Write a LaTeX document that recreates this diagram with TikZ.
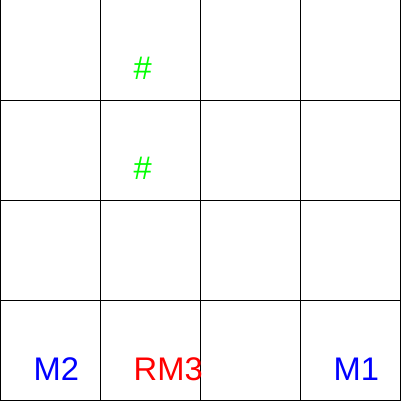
\documentclass[tikz,border=0pt]{standalone}
\usepackage{fontspec}
\setmainfont{Liberation Sans}
\definecolor{machblue}{RGB}{0,0,255}
\definecolor{robotred}{RGB}{255,0,0}
\definecolor{wallgreen}{RGB}{0,255,0}
\begin{document}
\begin{tikzpicture}[
	cell/.style={draw=black, line width=0.28pt},
	label/.style={inner sep=0pt, anchor=base west, font=\fontsize{9.3}{11}\selectfont},
	machine/.style={label, text=machblue},
	robot/.style={label, text=robotred},
	block/.style={label, text=wallgreen}]
	
	\useasboundingbox (0,0) rectangle (4.02,-4.02);
	
	% grid of cells
	\foreach \i in {0,...,3} {
		\foreach \j in {0,...,3} {
			\draw [cell] (\i,-\j) rectangle ++(1,-1);
		}
	}
	
	\node (wallA) [block] at (1.33,-0.80) {\#};
	\node (wallB) [block] at (1.33,-1.80) {\#};
	\node (mtwo) [machine] at (0.33,-3.80) {M2};
	\node (rmthree) [robot] at (1.33,-3.80) {RM3};
	\node (mone) [machine] at (3.33,-3.80) {M1};
\end{tikzpicture}
\end{document}
